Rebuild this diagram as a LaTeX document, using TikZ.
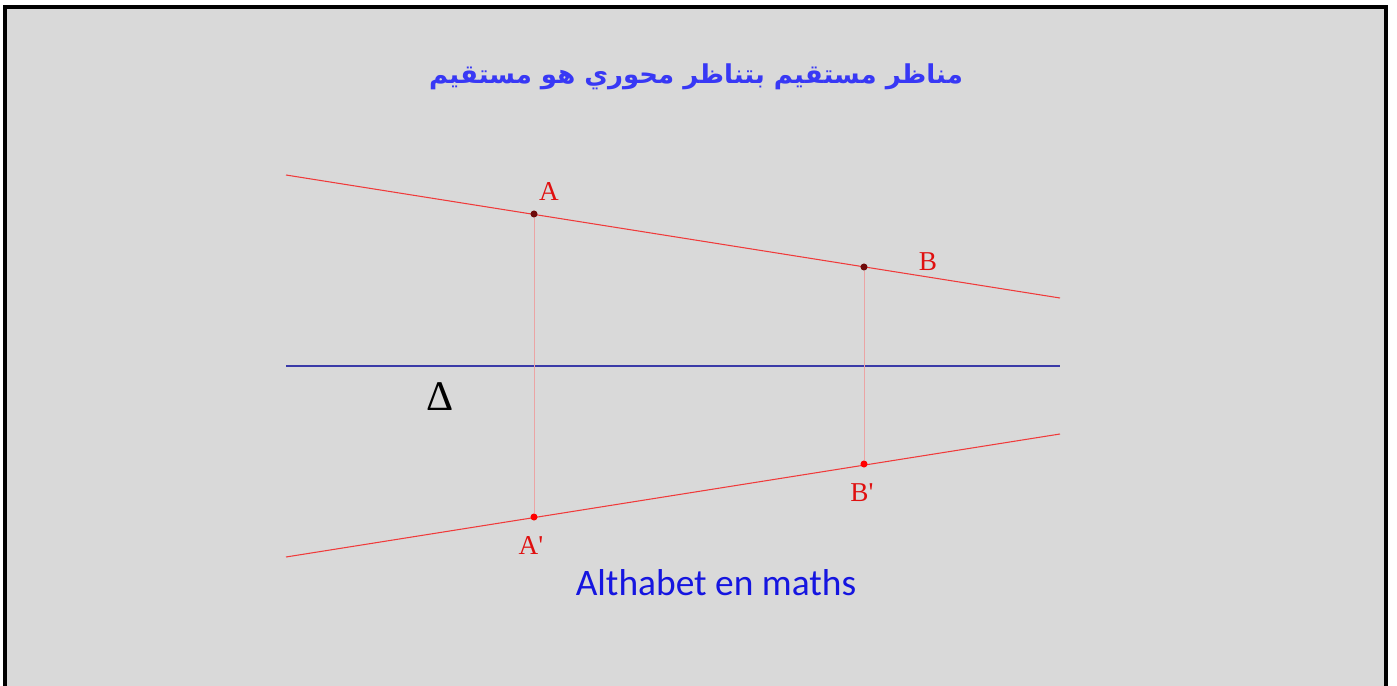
\documentclass[tikz,border=0pt]{standalone}
\usepackage{fontspec}
\usepackage{xcolor}
\usepackage{tikz}
\usetikzlibrary{positioning,calc}
\TeXXeTstate=1
\newfontfamily\arabicfont[Script=Arabic]{DejaVu Sans}
\newfontfamily\lblfont{Liberation Serif}
\newfontfamily\signfont{Carlito}
\definecolor{bg}{HTML}{D9D9D9}
\definecolor{ttl}{HTML}{3838F5}
\definecolor{ax}{HTML}{3A3AA8}
\definecolor{ln}{HTML}{F03A3A}
\definecolor{pj}{HTML}{EBA4A4}
\definecolor{dk}{HTML}{6E0A0A}
\definecolor{lb}{HTML}{E01010}
\definecolor{sg}{HTML}{1515E0}
\tikzset{
  dot/.style={circle, inner sep=0pt, minimum size=4pt, fill=#1},
  ptlabel/.style={text=lb, font=\lblfont\fontsize{15.5}{18}\selectfont, inner sep=0pt},
  redline/.style={ln, line width=0.6pt},
  projline/.style={pj, line width=0.45pt},
}

\begin{document}
\begin{tikzpicture}[x=0.02cm, y=-0.02cm]
  \useasboundingbox (0,0) rectangle (1397,686);
  \fill[bg] (5,7) rectangle (1386,686);
  \draw[line width=1.8pt] (5,686) -- (5,7) -- (1386,7) -- (1386,686);

  % title
  \node[text=ttl, font=\arabicfont\bfseries\fontsize{14.8}{18}\selectfont] (title) at (696,77)
    {\beginR مناظر مستقيم  بتناظر محوري هو مستقيم\endR};

  % the line, its image and the axis
  \coordinate (t1) at (286,175);
  \coordinate (t2) at (1060,298);
  \coordinate (b1) at (286,557);
  \coordinate (b2) at (1060,434);
  \coordinate (d1) at (286,366);
  \coordinate (d2) at (1060,366);
  \draw[redline] (t1) -- (t2);
  \draw[redline] (b1) -- (b2);
  \draw[ax, line width=0.6pt] (d1) -- (d2);

  % points
  \node[dot=dk] (A) at (534,214) {};
  \node[dot=dk] (B) at (864,267) {};
  \node[dot=red] (Ap) at (534,517) {};
  \node[dot=red] (Bp) at (864,464) {};
  \draw[projline] (A) -- (Ap);
  \draw[projline] (B) -- (Bp);

  % labels
  \node[ptlabel] (lA) at (549,192) {A};
  \node[ptlabel] (lB) at (928,262) {B};
  \node[ptlabel] (lAp) at (531,546) {A'};
  \node[ptlabel] (lBp) at (862,493) {B'};
  \node[font=\lblfont\fontsize{24}{28}\selectfont, inner sep=0pt] (delta) at (440,397) {Δ};

  \node[text=sg, font=\signfont\fontsize{21.3}{25}\selectfont] (sign) at (716,583) {Althabet en maths};
\end{tikzpicture}
\end{document}
